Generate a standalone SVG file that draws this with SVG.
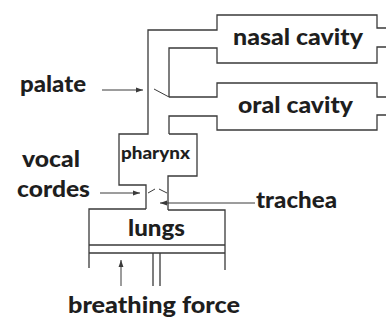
<svg xmlns="http://www.w3.org/2000/svg" width="386" height="320" viewBox="0 0 386 320">
<style>
.w{fill:none;stroke:#3a3a3a;stroke-width:1.3}
.a{fill:none;stroke:#3a3a3a;stroke-width:1}
.t{font-family:Lato,"Open Sans","DejaVu Sans",sans-serif;font-weight:900;fill:#1e1e1e;font-size:22px}
.s{font-size:16px}
</style>
<defs>
<marker id="ah" viewBox="0 0 10 10" refX="10" refY="5" markerWidth="7" markerHeight="7" orient="auto" markerUnits="userSpaceOnUse">
<path d="M0,1.5 L10,5 L0,8.5 Z" fill="#3a3a3a"/>
</marker>
</defs>
<rect width="386" height="320" fill="#fff"/>
<g id="nasal-cavity">
<path class="w" d="M148,133 V30 H217 V15 H377 V28 H386"/>
<path class="w" d="M386,47 H377 V63 H217 V48 H169 V97"/>
<text class="t" x="233" y="45" textLength="130" lengthAdjust="spacingAndGlyphs">nasal cavity</text>
</g>
<g id="oral-cavity">
<path class="w" d="M169,97 H217 V83 H377 V97 H386"/>
<path class="w" d="M386,115 H377 V130 H217 V116 H169 V134"/>
<text class="t" x="238" y="113" textLength="115" lengthAdjust="spacingAndGlyphs">oral cavity</text>
</g>
<g id="pharynx">
<path class="w" d="M148,133 V134 H119 V185 H146 V209"/>
<path class="w" d="M169,134 H197 V176 H168 V210"/>
<text class="t s" x="121" y="159" textLength="69" lengthAdjust="spacingAndGlyphs">pharynx</text>
</g>
<g id="lungs">
<path class="w" d="M146,209 H89 V268"/>
<path class="w" d="M168,210 H225 V270"/>
<path class="w" d="M89,245 H225 M89,253 H225 M153,253 V286 M160,253 V286"/>
<text class="t" x="128" y="236" textLength="57" lengthAdjust="spacingAndGlyphs">lungs</text>
</g>
<g id="labels">
<text class="t" x="20" y="92" textLength="66" lengthAdjust="spacingAndGlyphs">palate</text>
<text class="t" x="22" y="167" textLength="58" lengthAdjust="spacingAndGlyphs">vocal</text>
<text class="t" x="17" y="197" textLength="73" lengthAdjust="spacingAndGlyphs">cordes</text>
<text class="t" x="256" y="208" textLength="81" lengthAdjust="spacingAndGlyphs">trachea</text>
<text class="t" x="68" y="313" textLength="172" lengthAdjust="spacingAndGlyphs">breathing force</text>
</g>
<g id="connectors">
<line class="a" x1="102" y1="90" x2="143" y2="90" marker-end="url(#ah)"/>
<line class="a" x1="154" y1="89" x2="169" y2="97"/>
<line class="a" x1="100" y1="193" x2="140" y2="193" marker-end="url(#ah)"/>
<line class="a" x1="148" y1="193" x2="155" y2="189"/>
<line class="a" x1="159" y1="189" x2="167" y2="193"/>
<line class="a" x1="255" y1="203" x2="160" y2="203" marker-end="url(#ah)"/>
<line class="a" x1="121" y1="286" x2="121" y2="260" marker-end="url(#ah)"/>
</g>
</svg>
